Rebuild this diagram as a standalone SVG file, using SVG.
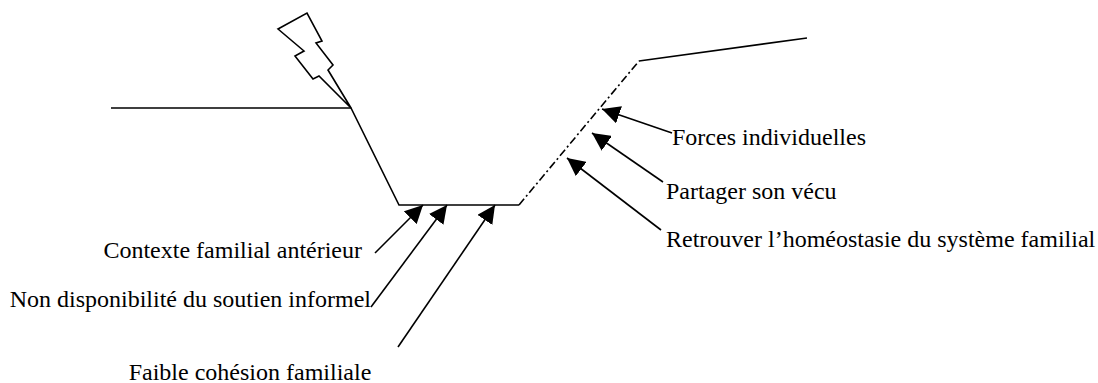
<svg xmlns="http://www.w3.org/2000/svg" width="1098" height="383" viewBox="0 0 1098 383">
<style>
.ln{stroke:#000;stroke-width:1.6;fill:none}
.dd{stroke:#000;stroke-width:1.6;fill:none;stroke-dasharray:8 3 2 3}
.ar{stroke:#000;stroke-width:1.6;fill:none;marker-end:url(#ah)}
.t{font-family:'Liberation Serif','DejaVu Serif','Times New Roman',serif;font-size:24px;fill:#000}
</style>
<defs>
<marker id="ah" markerUnits="userSpaceOnUse" markerWidth="20" markerHeight="18" refX="18" refY="9" orient="auto">
<path d="M0,0 L18,9 L0,18 Z" fill="#000"/>
</marker>
</defs>
<rect width="1098" height="383" fill="#fff"/>
<g id="curve">
<polyline class="ln" points="111,108 351,108 399,205 519,205"/>
<line class="dd" x1="519" y1="205" x2="639" y2="61"/>
<line class="ln" x1="639" y1="61" x2="807" y2="38"/>
</g>
<g id="bolt">
<polygon class="ln" points="278,29 307,13 322,41 316,43 333,65 328,70 351,108 319,76 313,79 295,56 304,51"/>
</g>
<g id="connectors">
<line class="ar" x1="375" y1="253" x2="423" y2="205"/>
<line class="ar" x1="371" y1="307" x2="447" y2="205"/>
<line class="ar" x1="398" y1="347" x2="495" y2="205"/>
<line class="ar" x1="672" y1="133" x2="602" y2="109"/>
<line class="ar" x1="663" y1="182" x2="592" y2="133"/>
<line class="ar" x1="661" y1="230" x2="567" y2="158"/>
</g>
<g id="labels">
<text class="t" x="362" y="258" text-anchor="end">Contexte familial antérieur</text>
<text class="t" x="371" y="307" text-anchor="end">Non disponibilité du soutien informel</text>
<text class="t" x="250" y="380" text-anchor="middle">Faible cohésion familiale</text>
<text class="t" x="672" y="145">Forces individuelles</text>
<text class="t" x="666" y="199">Partager son vécu</text>
<text class="t" x="666" y="247">Retrouver l’homéostasie du système familial</text>
</g>
</svg>
